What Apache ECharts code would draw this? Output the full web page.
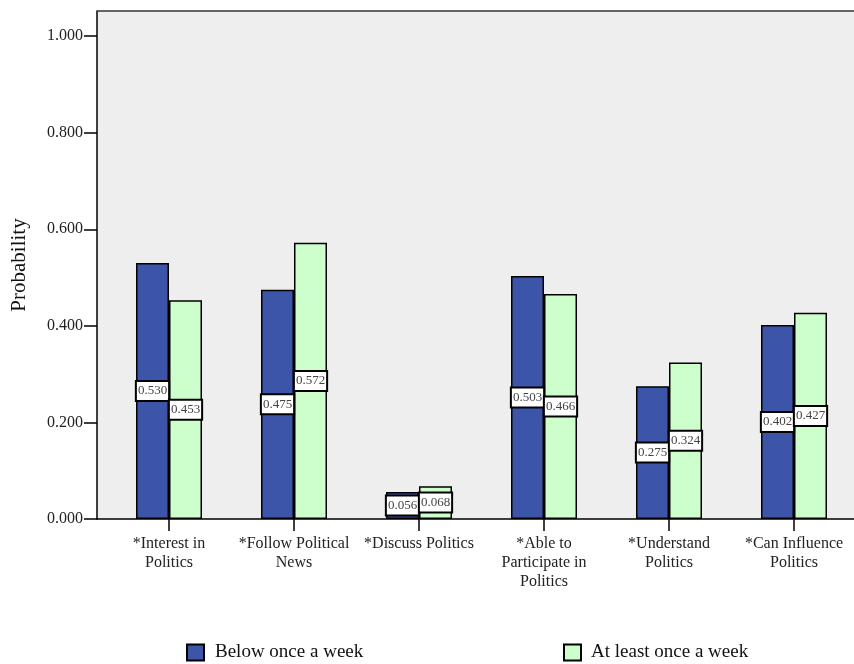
<!DOCTYPE html>
<html>
<head>
<meta charset="utf-8">
<script src="https://cdn.jsdelivr.net/npm/echarts@6/dist/echarts.min.js"></script>
<style>html,body{margin:0;padding:0;background:#fff}#c{width:854px;height:664px}</style>
</head>
<body>
<div id="c"></div>
<script>
var categories = ['*Interest in\nPolitics', '*Follow Political\nNews', '*Discuss Politics', '*Able to\nParticipate in\nPolitics', '*Understand\nPolitics', '*Can Influence\nPolitics'];
var belowOnce = [0.530, 0.475, 0.056, 0.503, 0.275, 0.402];
var atLeastOnce = [0.453, 0.572, 0.068, 0.466, 0.324, 0.427];
var yTicks = [0, 0.2, 0.4, 0.6, 0.8, 1.0];
var catPositions = [0, 1, 2, 3, 4, 5];

var FONT = "'Liberation Serif','Times New Roman',serif";
var chart = echarts.init(document.getElementById('c'), null, {renderer: 'canvas'});
function pairs(arr) { return arr.map(function (v, i) { return [catPositions[i], v]; }); }
var labelOpt = {
  show: true, position: 'inside',
  formatter: function (p) { return p.value[1].toFixed(3); },
  backgroundColor: '#fff', borderColor: '#000', borderWidth: 2,
  padding: [3, 1, 2, 1], fontSize: 13, color: '#444', fontFamily: FONT
};
chart.setOption({
  animation: false,
  graphic: [
    {type: 'line', z: 10, shape: {x1: 97, y1: 11, x2: 854, y2: 11}, style: {stroke: '#333', lineWidth: 1.5}}
  ],
  grid: {left: 97, top: 11, width: 760, bottom: 145, containLabel: false, outerBoundsMode: 'none',
         show: true, backgroundColor: '#eeeeee', borderWidth: 0},
  legend: [
    {data: ['Below once a week'], left: 186, top: 643, padding: 0, icon: 'rect', itemWidth: 17, itemHeight: 16,
     textStyle: {fontSize: 19, fontFamily: FONT, color: '#111', padding: [0, 0, 0, 6]}},
    {data: ['At least once a week'], left: 563, top: 643, padding: 0, icon: 'rect', itemWidth: 17, itemHeight: 16,
     textStyle: {fontSize: 19, fontFamily: FONT, color: '#111', padding: [0, 0, 0, 5]}}
  ],
  xAxis: {
    type: 'value', min: -0.576, max: 5.504,
    splitLine: {show: false},
    axisLine: {show: true, onZero: false, lineStyle: {color: '#000', width: 1.5}},
    axisTick: {show: true, length: 12, customValues: catPositions, lineStyle: {color: '#000', width: 1.5}},
    axisLabel: {margin: 15, fontSize: 16, lineHeight: 19, fontFamily: FONT, color: '#222',
      customValues: catPositions,
      formatter: function (v) { return categories[Math.round(v)]; }}
  },
  yAxis: {
    type: 'value', min: 0, max: 1.052,
    name: 'Probability', nameLocation: 'middle', nameRotate: 90, nameGap: 67,
    nameTextStyle: {fontSize: 21, fontFamily: FONT, color: '#111'},
    splitLine: {show: false},
    axisLine: {show: true, onZero: false, lineStyle: {color: '#000', width: 1.5}},
    axisTick: {show: true, length: 13, customValues: yTicks, lineStyle: {color: '#000', width: 1.5}},
    axisLabel: {margin: 14, fontSize: 16, fontFamily: FONT, color: '#222', customValues: yTicks,
      formatter: function (v) { return v.toFixed(3); }}
  },
  series: [
    {name: 'Below once a week', type: 'bar', data: pairs(belowOnce), barWidth: 33, barGap: '0%',
     itemStyle: {color: '#3c55a8', borderColor: '#000', borderWidth: 1.5}, label: labelOpt},
    {name: 'At least once a week', type: 'bar', data: pairs(atLeastOnce), barWidth: 33, barGap: '0%',
     itemStyle: {color: '#ccffcc', borderColor: '#000', borderWidth: 1.5}, label: labelOpt}
  ]
});
</script>
</body>
</html>
